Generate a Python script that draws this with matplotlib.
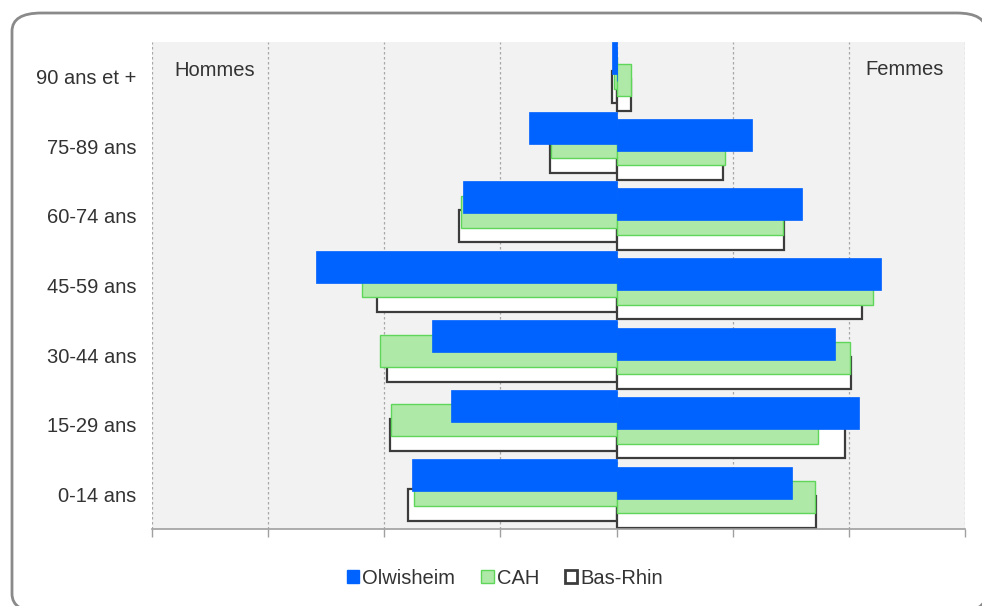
import matplotlib
matplotlib.use("Agg")
import matplotlib.pyplot as plt
from matplotlib.patches import FancyBboxPatch, Patch

plt.rcParams['font.family'] = ['Liberation Sans', 'DejaVu Sans']

# age groups, top to bottom
ages = ["90 ans et +", "75-89 ans", "60-74 ans", "45-59 ans", "30-44 ans", "15-29 ans", "0-14 ans"]

# share of population in %, men (left) and women (right)
olw_h = [0.21, 3.77, 6.59, 12.94, 7.95, 7.14, 8.79]
olw_f = [0.0, 5.85, 8.00, 11.39, 9.39, 10.43, 7.57]
cah_h = [0.12, 2.84, 6.69, 10.96, 10.20, 9.70, 8.71]
cah_f = [0.64, 4.66, 7.17, 11.04, 10.06, 8.67, 8.53]
br_h = [0.18, 2.87, 6.78, 10.32, 9.89, 9.75, 8.96]
br_f = [0.60, 4.59, 7.19, 10.56, 10.10, 9.82, 8.57]

blue = "#0062ff"
green_fill = "#aee9a8"
green_edge = "#5fd65a"
dark = "#3c3c3c"
txt = "#333333"

fig = plt.figure(figsize=(9.82, 6.06), dpi=100)

# rounded frame around the chart
frame = FancyBboxPatch((12 / 982, 1 - 612 / 606), (986 - 12) / 982, (612 - 13) / 606,
                       boxstyle="round,pad=0,rounding_size=0.03",
                       transform=fig.transFigure, facecolor="white",
                       edgecolor="#8a8a8a", linewidth=2, zorder=-10)
fig.patches.append(frame)

ax = fig.add_axes([152 / 982, 1 - 529 / 606, (965 - 152) / 982, (529 - 42) / 606])
ax.set_zorder(1)
ax.set_facecolor("#f2f2f2")

pos = list(range(len(ages)))
step = 0.105
h = 0.46
top = [p - 0.5 for p in pos]

def bars(vals, k, sign, **kw):
    ax.barh([t + k * step for t in top], [sign * v for v in vals], height=h, align="edge", **kw)

# Bas-Rhin (back)
bars(br_h, 4, -1, color="white", edgecolor=dark, linewidth=1.6, zorder=2)
bars(br_f, 5, 1, color="white", edgecolor=dark, linewidth=1.6, zorder=2)
# CAH
bars(cah_h, 2, -1, color=green_fill, edgecolor=green_edge, linewidth=1, zorder=3)
bars(cah_f, 3, 1, color=green_fill, edgecolor=green_edge, linewidth=1, zorder=3)
# Olwisheim (front)
bars(olw_h, 0, -1, color=blue, edgecolor=blue, linewidth=0.5, zorder=4)
bars(olw_f, 1, 1, color=blue, edgecolor=blue, linewidth=0.5, zorder=4)

ax.set_xlim(-20, 15)
ax.set_ylim(len(ages) - 0.5, -0.5)
ax.set_xticks(range(-20, 16, 5))
ax.set_xticklabels([])
ax.set_yticks(pos)
ax.set_yticklabels(ages, fontsize=14.5, color=txt)
ax.tick_params(axis="y", length=0, pad=11)
ax.tick_params(axis="x", length=6, color="#a0a0a0", width=1, direction="out")
ax.grid(axis="x", linestyle=(0, (2, 2)), color="#a8a8a8", linewidth=0.9, zorder=1)
ax.set_axisbelow(True)
for s in ["top", "right", "left"]:
    ax.spines[s].set_visible(False)
ax.spines["bottom"].set_color("#a0a0a0")
ax.spines["bottom"].set_linewidth(1.2)

ax.text(0.027, 0.962, "Hommes", transform=ax.transAxes, fontsize=14.5, color=txt, va="top", ha="left")
ax.text(0.974, 0.964, "Femmes", transform=ax.transAxes, fontsize=14.5, color=txt, va="top", ha="right")

handles = [Patch(facecolor=blue, edgecolor=blue, label="Olwisheim"),
           Patch(facecolor=green_fill, edgecolor=green_edge, label="CAH"),
           Patch(facecolor="white", edgecolor=dark, linewidth=2, label="Bas-Rhin")]
leg = fig.legend(handles=handles, loc="center", bbox_to_anchor=(505 / 982, 1 - 578 / 606),
                 ncol=3, frameon=False, fontsize=14.5, handlelength=0.6, handleheight=0.6,
                 handletextpad=0.15, columnspacing=1.3)
for t in leg.get_texts():
    t.set_color(txt)

fig.savefig("out.png", dpi=100)
